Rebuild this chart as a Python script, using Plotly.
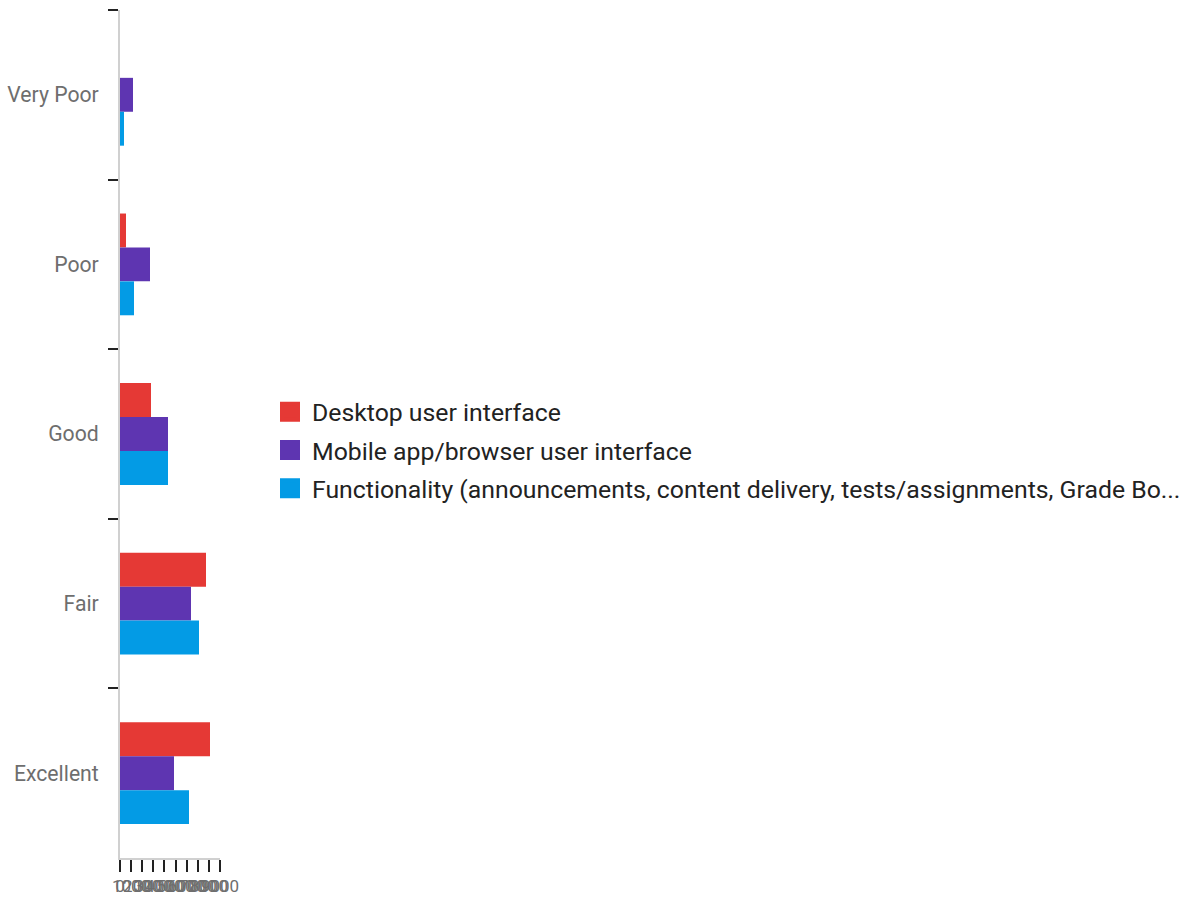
import plotly.graph_objects as go

categories = ["Very Poor", "Poor", "Good", "Fair", "Excellent"]
series_names = [
    "Desktop user interface",
    "Mobile app/browser user interface",
    "Functionality (announcements, content delivery, tests/assignments, Grade Bo...",
]
desktop = [0, 540, 2790, 7740, 8100]
mobile = [1170, 2700, 4320, 6390, 4860]
functionality = [360, 1260, 4320, 7110, 6210]
x_ticks = [0, 1000, 2000, 3000, 4000, 5000, 6000, 7000, 8000, 9000]

colors = ["#E53935", "#5E35B1", "#039BE5"]
values = [desktop, mobile, functionality]

fig = go.Figure()
for i, (name, vals) in enumerate(zip(series_names, values)):
    fig.add_trace(go.Bar(
        y=categories, x=vals, orientation="h", name=name,
        marker=dict(color=colors[i], line=dict(width=0)),
        showlegend=False, legendgroup=f"g{i}",
    ))
for i, name in enumerate(series_names):
    fig.add_trace(go.Scatter(
        x=[None], y=[None], mode="markers", name=name,
        marker=dict(symbol="square", size=16, color=colors[i],
                    line=dict(width=4, color=colors[i])),
        legendgroup=f"g{i}",
    ))

fig.update_layout(
    width=1196, height=898,
    margin=dict(l=120, r=976, t=10, b=40),
    paper_bgcolor="white", plot_bgcolor="white",
    barmode="group", bargap=0.4, bargroupgap=0,
    font=dict(family="Roboto", color="#666666"),
    legend=dict(
        x=1.48, xanchor="left", y=0.481, yanchor="middle",
        font=dict(size=24.8, color="#222222", family="Roboto"),
        traceorder="grouped", tracegroupgap=3, itemwidth=34,
    ),
    xaxis=dict(
        range=[0, 9000], tickvals=x_ticks, ticktext=[str(v) for v in x_ticks],
        tickangle=0, automargin=False,
        showgrid=False, zeroline=False, showline=True, linecolor="#d0d0d0",
        linewidth=2, ticks="outside", ticklen=12, tickcolor="#222222",
        tickwidth=2, tickfont=dict(size=17, color="#6e6e6e"),
    ),
    yaxis=dict(
        autorange="reversed", categoryorder="array", categoryarray=categories,
        automargin=False,
        showgrid=False, zeroline=False, showline=True, linecolor="#d0d0d0",
        linewidth=2, ticks="outside", ticklen=10, tickcolor="#222222",
        tickwidth=2, tickson="boundaries",
        tickfont=dict(size=21.2, color="#6e6e6e"), ticklabelstandoff=15,
    ),
)

fig.write_html(
    "out.html",
    config={"displayModeBar": False},
    post_script="document.body.style.margin='0';document.body.style.overflow='hidden';",
)
